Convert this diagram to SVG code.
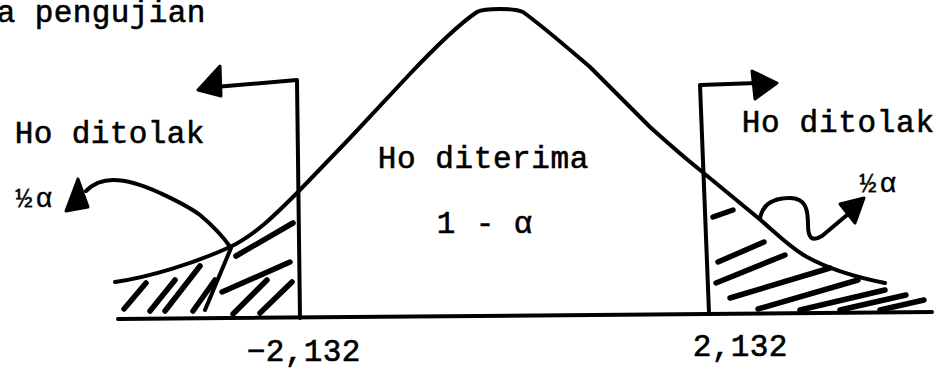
<svg xmlns="http://www.w3.org/2000/svg" width="944" height="380" viewBox="0 0 944 380">
<style>
.t{font-family:"Liberation Mono","Courier New",monospace;font-size:31px;fill:#000;stroke:#000;stroke-width:0.6;text-anchor:middle}
.s{font-family:"Liberation Mono","Courier New",monospace;font-size:28px;fill:#000;stroke:#000;stroke-width:0.4;text-anchor:middle}
.ln{fill:none;stroke:#000;stroke-width:4;stroke-linecap:round;stroke-linejoin:round}
.ht{fill:none;stroke:#000;stroke-width:5.5;stroke-linecap:round}
.hd{fill:#000;stroke:#000;stroke-width:3;stroke-linejoin:round}
</style>
<rect width="944" height="380" fill="#fff"/>
<g id="title"><text class="t" font-size="27" y="22" x="6 25 44 63 82 101 120 139 158 177 196">a pengujian</text></g>
<g id="curve"><path class="ln" d="M115,282 C150,277 195,263 230,247 C255,235 275,215 297,193 L350,138 L407,77 C440,42 462,22 477,12 C485,8 515,8 523,12 C545,28 570,50 590,67 L650,127 C670,145 685,158 700,170 L757,217 C775,232 790,248 807,257 C825,267 850,276 885,283"/></g>
<g id="axis"><path class="ln" d="M118,319 L932,312"/></g>
<g id="left-critical">
<path class="ln" d="M300,318 L297,80 L215,87"/>
<polygon class="hd" points="220,66 221,96 198,90"/>
<text class="t" y="143" x="24 43 62 81 100 119 138 157 176 195">Ho ditolak</text>
<text class="t" y="361" x="256 275 294 313 332 351">−2,132</text>
</g>
<g id="left-tail">
<path class="ht" d="M124,309 L146,283 M150,311 L175,280 M165,311 L200,266 M193,311 L215,280 M233,314 L267,280 M260,313 L292,282 M222,292 L290,262 M236,256 L293,223"/>
<path class="ln" stroke-width="4.5" d="M205,310 L231,248 C222,235 212,225 200,215 C188,206 175,200 160,193 C145,186 128,180 113,180 C102,180 93,184 86,191"/>
<polygon class="hd" points="78,179 66,211 88,207"/>
<text class="s" y="207" x="24 44">½α</text>
</g>
<g id="right-critical">
<path class="ln" d="M709,313 L700,85 L757,83"/>
<polygon class="hd" points="752,71 755,99 777,83"/>
<text class="t" y="132" x="751 770.3 789.6 808.9 828.2 847.5 866.8 886.1 905.4 924.7">Ho ditolak</text>
<text class="t" y="356" x="702 721 740 759 778">2,132</text>
</g>
<g id="right-tail">
<path class="ht" d="M713,217 L733,210 M718,262 L764,242 M716,283 L785,255 M730,298 L830,268 M758,309 L858,280 M800,310 L885,290 M840,310 L906,295 M880,310 L924,300"/>
<path class="ln" stroke-width="4.5" d="M760,219 C762,205 772,198 790,198 C806,198 808,210 808,225 C808,238 812,242 822,236 L847,215"/>
<polygon class="hd" points="864,198 840,204 855,223"/>
<text class="s" y="192" x="868 888">½α</text>
</g>
<g id="acceptance">
<text class="t" y="168" x="387 406.2 425.4 444.6 463.8 483 502.2 521.4 540.6 559.8 579">Ho diterima</text>
<text class="t" y="233" x="446 465 485 504 523">1 - α</text>
</g>
</svg>
